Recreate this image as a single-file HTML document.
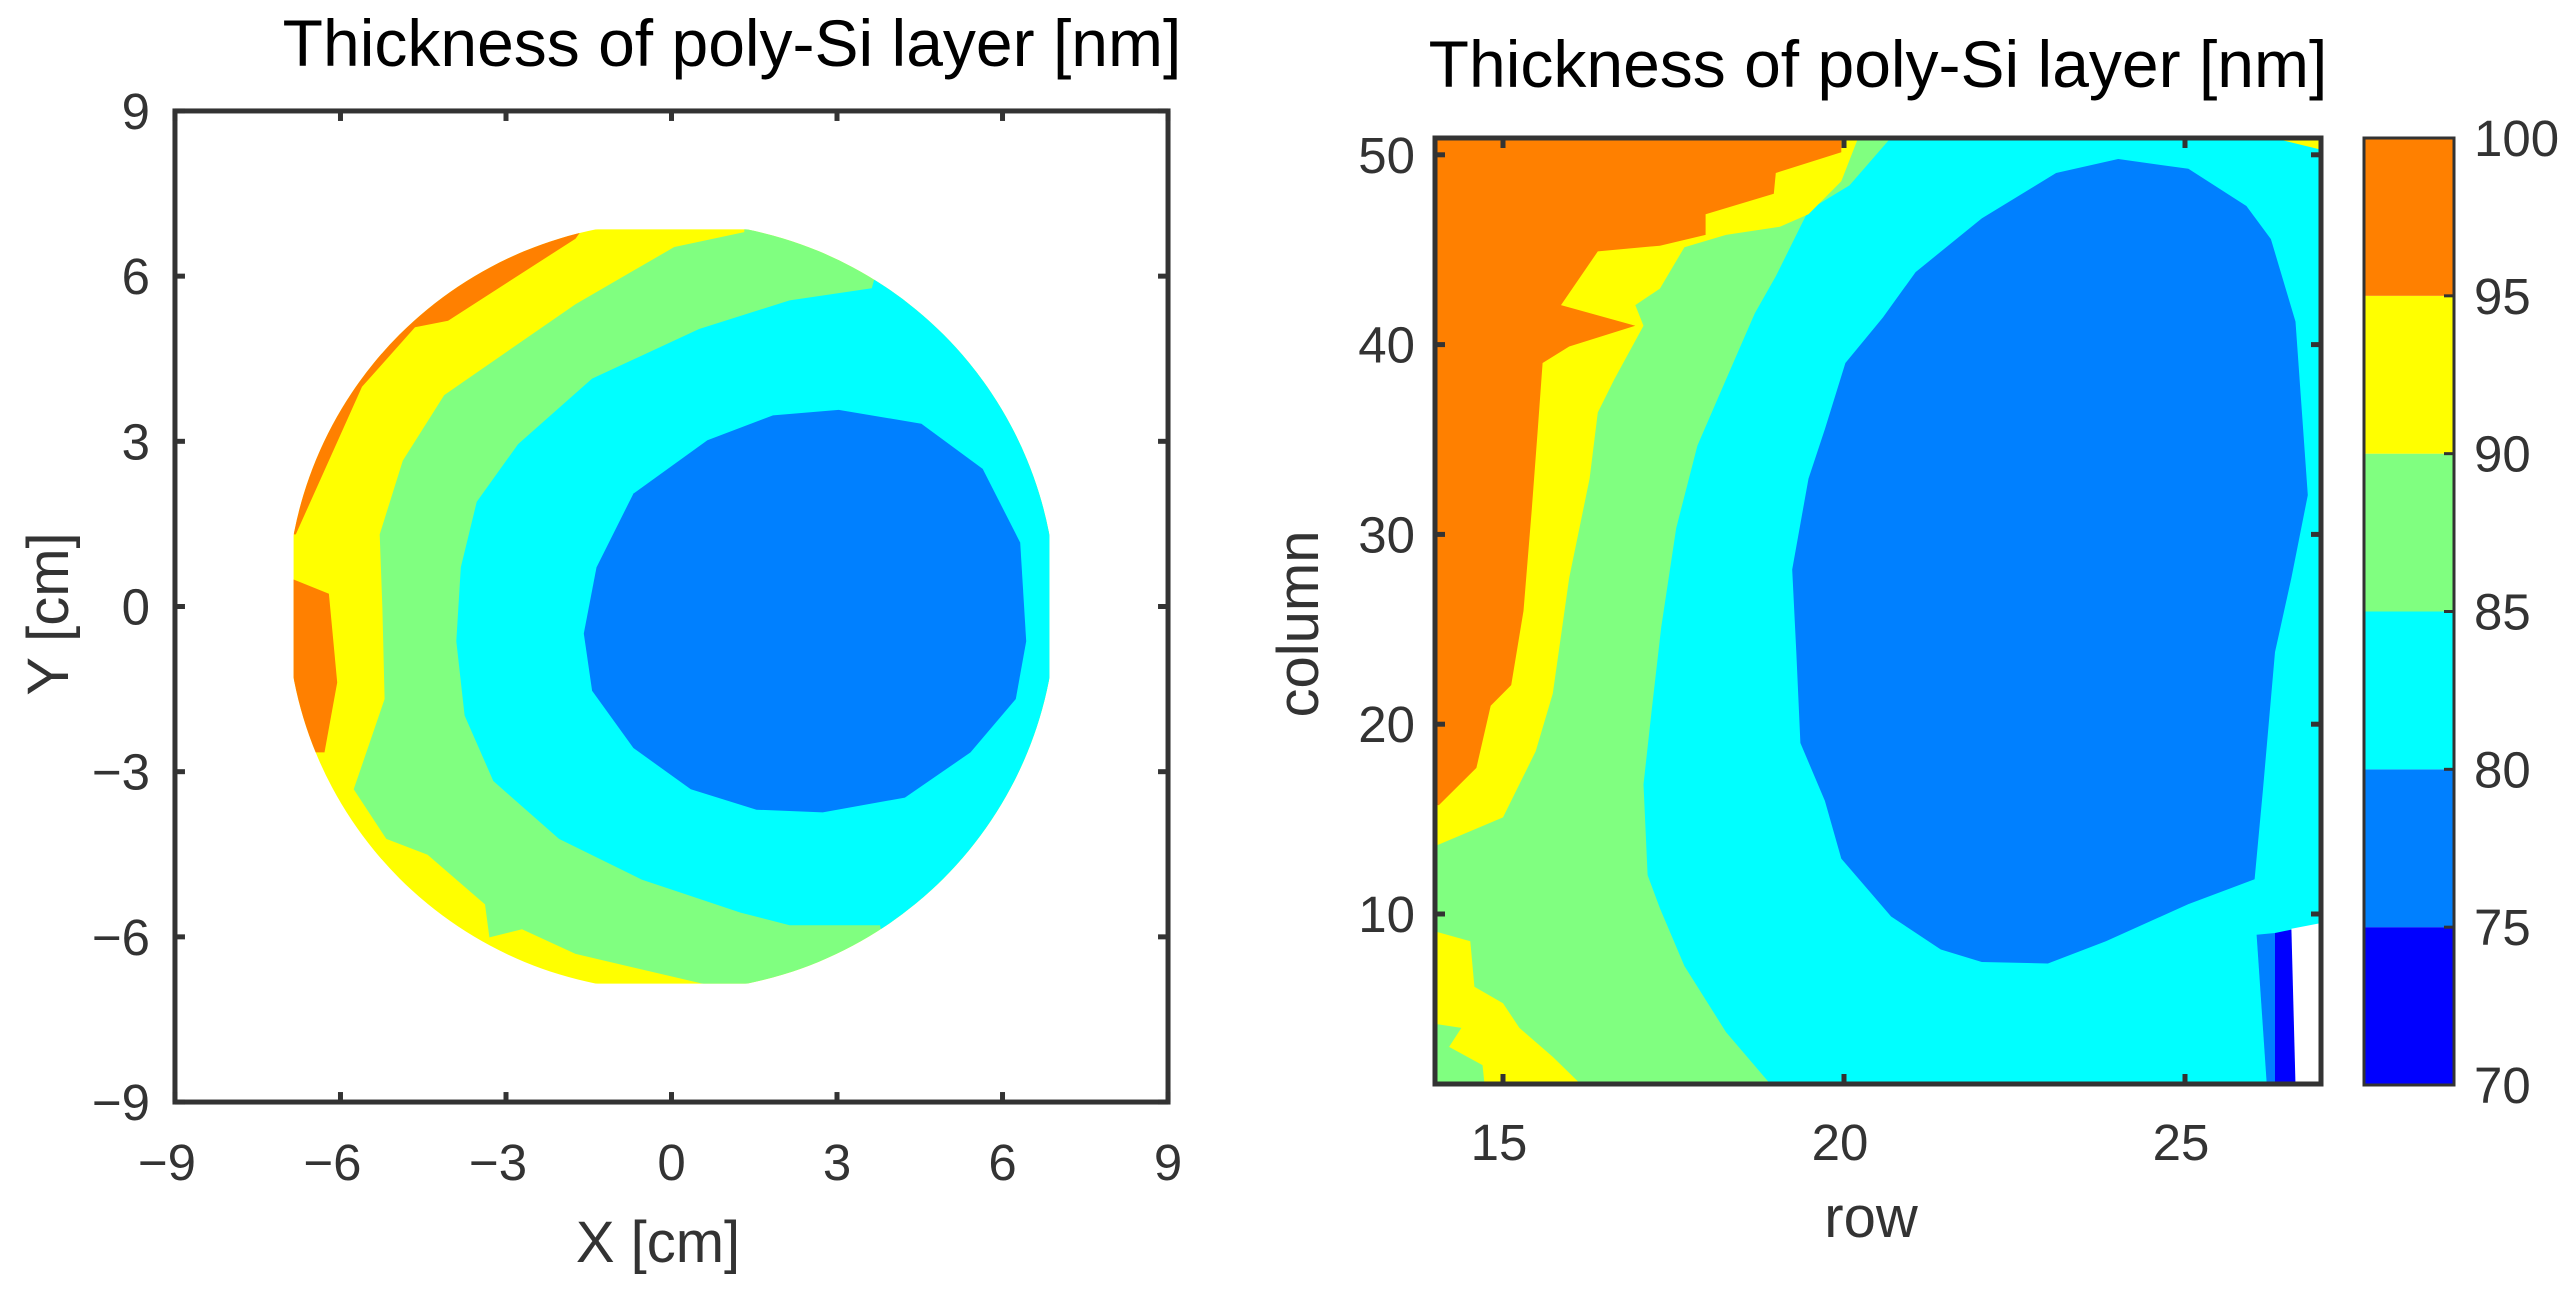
<!DOCTYPE html>
<html><head><meta charset="utf-8"><style>
html,body{margin:0;padding:0;background:#fff;}
svg{display:block;font-family:"Liberation Sans",Arial,sans-serif;}
</style></head><body>
<svg id="svg" width="2575" height="1293" viewBox="0 0 2575 1293" xmlns="http://www.w3.org/2000/svg">
<defs>
<clipPath id="rightClip"><rect x="1435" y="138" width="886" height="946"/></clipPath>
</defs>
<g id="left"></g>
<g id="right"></g>
</svg>
<script>
const NS="http://www.w3.org/2000/svg";
function mk(tag,attrs,parent){const e=document.createElementNS(NS,tag);for(const k in attrs)e.setAttribute(k,attrs[k]);parent.appendChild(e);return e;}
// ---------- data: left chart (cm) ----------
const leftTicks=[-9,-6,-3,0,3,6,9];
const waferRadius=6.98;
const waferHalfSide=6.85;
const leftOrangeA=[[-6.29,-2.65],[-6.06,-1.38],[-6.21,0.23],[-6.85,0.49],[-9,0.49],[-9,-2.65]];
const leftOrangeB=[[-6.81,1.31],[-5.61,3.99],[-4.65,5.07],[-4.05,5.19],[-1.74,6.68],[-1.44,7.1],[-9,7.1],[-9,1.31]];
const leftGreen=[[1.32,6.80],[0.05,6.53],[-1.74,5.49],[-4.12,3.84],[-4.87,2.65],[-5.29,1.31],[-5.24,-0.04],[-5.20,-1.68],[-5.76,-3.32],[-5.17,-4.22],[-4.42,-4.51],[-3.38,-5.41],[-3.30,-6.01],[-2.71,-5.86],[-1.74,-6.31],[0.65,-6.87],[0.7,-9],[9,-9],[9,9],[1.3,9]];
const leftCyan=[[4.23,9],[4.23,8.02],[3.63,5.78],[2.14,5.56],[0.5,5.04],[-1.44,4.14],[-2.78,2.95],[-3.53,1.90],[-3.82,0.71],[-3.90,-0.63],[-3.75,-1.98],[-3.23,-3.17],[-2.04,-4.22],[-0.54,-4.96],[1.25,-5.56],[2.14,-5.79],[3.78,-5.79],[4.5,-9],[9,-9],[9,9]];
const leftBlue=[[3.03,3.57],[1.84,3.47],[0.65,3.02],[-0.69,2.05],[-1.36,0.71],[-1.59,-0.49],[-1.44,-1.53],[-0.69,-2.57],[0.35,-3.32],[1.54,-3.69],[2.74,-3.74],[4.23,-3.47],[5.42,-2.65],[6.24,-1.68],[6.43,-0.63],[6.32,1.16],[5.64,2.50],[4.53,3.32]];
// ---------- data: right chart (row, column) ----------
const rowTicks=[15,20,25];
const colTicks=[10,20,30,40,50];
const cbLevels=[70,75,80,85,90,95,100];
const cbColors=["#0000ff","#0080ff","#00ffff","#80ff80","#ffff00","#ff8000"];
const rGreen=[[20.69,50.91],[20.08,48.39],[19.48,47.08],[19.0,43.60],[18.69,41.64],[18.27,38.16],[17.85,34.68],[17.54,30.33],[17.32,25.10],[17.18,20.75],[17.06,16.83],[17.12,12.05],[17.30,10.30],[17.66,7.26],[18.27,3.78],[18.93,1.0],[14,1.0],[14,50.91]];
const rYellow=[[20.21,50.91],[19.96,48.61],[19.48,46.87],[19.06,46.21],[18.27,45.78],[17.66,45.13],[17.30,42.95],[16.94,42.08],[17.06,40.99],[16.63,38.16],[16.39,36.42],[16.27,32.94],[15.97,27.71],[15.73,21.62],[15.48,18.57],[15.0,15.09],[14,13.57],[14,50.91]];
const rOrange=[[19.96,50.91],[19.96,50.13],[19.0,49.04],[18.97,47.95],[17.97,46.87],[17.97,45.78],[17.30,45.21],[16.39,44.91],[15.85,42.08],[16.94,40.99],[15.97,39.90],[15.58,39.03],[15.51,35.55],[15.42,31.20],[15.30,25.97],[15.12,22.06],[14.82,20.97],[14.61,17.70],[14.06,15.74],[14,15.74],[14,50.91]];
const rYellowBottom=[[14,9.09],[14.52,8.56],[14.58,6.17],[15.0,5.30],[15.24,4.0],[15.73,2.47],[16.15,1.0],[14,1.0]];
const rGreenPatch=[[14,4.21],[14.39,4.0],[14.21,3.0],[14.70,2.04],[14.73,1.0],[14,1.0]];
const rBlue=[[24.02,49.78],[23.11,49.04],[22.02,46.65],[21.05,43.82],[20.57,41.43],[20.02,39.03],[19.72,35.55],[19.48,32.94],[19.24,28.15],[19.30,23.80],[19.36,19.01],[19.72,15.96],[19.96,12.92],[20.69,9.87],[21.42,8.13],[22.02,7.47],[22.99,7.39],[23.84,8.56],[25.05,10.52],[26.02,11.83],[26.14,16.40],[26.32,23.80],[26.56,27.71],[26.80,32.07],[26.62,41.21],[26.26,45.56],[25.90,47.30],[25.05,49.26]];
const rBlueStrip=[[26.05,8.91],[26.32,9.0],[26.32,1.0],[26.20,1.0]];
const rDarkBlueStrip=[[26.32,9.0],[26.62,9.22],[26.62,1.0],[26.32,1.0]];
const rWhite=[[26.56,9.22],[26.96,9.5],[26.96,1.0],[26.62,1.0]];
const rTopRightYellow=[[26.26,50.91],[26.96,50.91],[26.96,50.3]];

const TICK_FS=51, TITLE_FS=66, AXIS_FS=58;
// ---------- left chart ----------
const L=document.getElementById('left');
const lx=v=>671.5+(v)*55.17, ly=v=>606.5-(v)*55.06;
const pts=(arr,fx,fy)=>arr.map(p=>fx(p[0]).toFixed(1)+','+fy(p[1]).toFixed(1)).join(' ');
let t=mk('text',{x:732,y:66,'font-size':TITLE_FS,'text-anchor':'middle',fill:'#000'},L);t.textContent='Thickness of poly-Si layer [nm]';

const defs=document.querySelector('defs');
const cc=mk('clipPath',{id:'sqClip'},defs);
mk('rect',{x:lx(-waferHalfSide),y:ly(waferHalfSide),width:lx(waferHalfSide)-lx(-waferHalfSide),height:ly(-waferHalfSide)-ly(waferHalfSide)},cc);
const cc2=mk('clipPath',{id:'circClip'},defs);
mk('circle',{cx:lx(0),cy:ly(0),r:waferRadius*55.1},cc2);
const wg=mk('g',{'clip-path':'url(#sqClip)'},L);
const wafer=mk('g',{'clip-path':'url(#circClip)'},wg);

mk('rect',{x:lx(-9),y:ly(9),width:lx(9)-lx(-9),height:ly(-9)-ly(9),fill:'#ffff00'},wafer);
[[leftOrangeA,'#ff8000','contour-95-100-a'],[leftOrangeB,'#ff8000','contour-95-100-b'],[leftGreen,'#80ff80','contour-85-90'],[leftCyan,'#00ffff','contour-80-85'],[leftBlue,'#0080ff','contour-75-80']].forEach(([a,c,n])=>{
 const p=mk('polygon',{points:pts(a,lx,ly),fill:c},wafer);
 
});
const lbox=mk('rect',{x:lx(-9),y:ly(9),width:lx(9)-lx(-9),height:ly(-9)-ly(9),fill:'none',stroke:'#333',"stroke-width":5},L);

leftTicks.forEach(v=>{
 mk('line',{x1:lx(v),x2:lx(v),y1:ly(-9),y2:ly(-9)-10,stroke:'#333','stroke-width':5},L);
 mk('line',{x1:lx(v),x2:lx(v),y1:ly(9),y2:ly(9)+10,stroke:'#333','stroke-width':5},L);
 mk('line',{x1:lx(-9),x2:lx(-9)+10,y1:ly(v),y2:ly(v),stroke:'#333','stroke-width':5},L);
 mk('line',{x1:lx(9),x2:lx(9)-10,y1:ly(v),y2:ly(v),stroke:'#333','stroke-width':5},L);
 const lab=(v<0?'\u2212':'')+Math.abs(v);
 let a=mk('text',{x:lx(v)-(v<0?8:0),y:1180,'font-size':TICK_FS,'text-anchor':'middle',fill:'#333'},L);a.textContent=lab;
 
 let b=mk('text',{x:150,y:ly(v)+18,'font-size':TICK_FS,'text-anchor':'end',fill:'#333'},L);b.textContent=lab;
 
});
t=mk('text',{x:658,y:1262,'font-size':AXIS_FS,'text-anchor':'middle',fill:'#333'},L);t.textContent='X [cm]';

t=mk('text',{x:0,y:0,'font-size':AXIS_FS,'text-anchor':'middle',fill:'#333',transform:'translate(68,614) rotate(-90)'},L);t.textContent='Y [cm]';


// ---------- right chart ----------
const R=document.getElementById('right');
const rx=v=>1503+(v-15)*68.2, ry=v=>914-(v-10)*18.98;
t=mk('text',{x:1878,y:87,'font-size':TITLE_FS,'text-anchor':'middle',fill:'#000'},R);t.textContent='Thickness of poly-Si layer [nm]';

const rg=mk('g',{'clip-path':'url(#rightClip)'},R);

mk('rect',{x:1435,y:138,width:886,height:946,fill:'#00ffff'},rg);
[[rGreen,'#80ff80','contour-85-90'],[rYellow,'#ffff00','contour-90-95'],[rOrange,'#ff8000','contour-95-100'],[rYellowBottom,'#ffff00','contour-90-95-bottom'],[rGreenPatch,'#80ff80','contour-85-90-patch'],[rBlue,'#0080ff','contour-75-80'],[rBlueStrip,'#0080ff','contour-75-80-strip'],[rDarkBlueStrip,'#0000ff','contour-70-75-strip'],[rWhite,'#ffffff','no-data-region'],[rTopRightYellow,'#ffff00','contour-90-95-corner']].forEach(([a,c,n])=>{
 const p=mk('polygon',{points:pts(a,rx,ry),fill:c},rg);
 
});
const rbox=mk('rect',{x:1435,y:138,width:886,height:946,fill:'none',stroke:'#333','stroke-width':5},R);

rowTicks.forEach(v=>{
 mk('line',{x1:rx(v),x2:rx(v),y1:1084,y2:1074,stroke:'#333','stroke-width':5},R);
 mk('line',{x1:rx(v),x2:rx(v),y1:138,y2:148,stroke:'#333','stroke-width':5},R);
 let a=mk('text',{x:rx(v)-4,y:1160,'font-size':TICK_FS,'text-anchor':'middle',fill:'#333'},R);a.textContent=v;
 
});
colTicks.forEach(v=>{
 mk('line',{x1:1435,x2:1445,y1:ry(v),y2:ry(v),stroke:'#333','stroke-width':5},R);
 mk('line',{x1:2321,x2:2311,y1:ry(v),y2:ry(v),stroke:'#333','stroke-width':5},R);
 let a=mk('text',{x:1415,y:ry(v)+18,'font-size':TICK_FS,'text-anchor':'end',fill:'#333'},R);a.textContent=v;
 
});
t=mk('text',{x:1871,y:1237,'font-size':AXIS_FS,'text-anchor':'middle',fill:'#333'},R);t.textContent='row';

t=mk('text',{x:0,y:0,'font-size':AXIS_FS,'text-anchor':'middle',fill:'#333',transform:'translate(1318,624) rotate(-90)'},R);t.textContent='column';

// colorbar
const cy=v=>1085-(v-70)*(947/30);
const cb=mk('g',{},R);

cbColors.forEach((c,i)=>{
 const r=mk('rect',{x:2364,y:cy(cbLevels[i+1]),width:90,height:cy(cbLevels[i])-cy(cbLevels[i+1]),fill:c},cb);
 
});
mk('rect',{x:2364,y:cy(100),width:90,height:cy(70)-cy(100),fill:'none',stroke:'#333','stroke-width':3},cb);
cbLevels.forEach(v=>{
 mk('line',{x1:2454,x2:2444,y1:cy(v),y2:cy(v),stroke:'#333','stroke-width':3},cb);
 let a=mk('text',{x:2474,y:cy(v)+18,'font-size':TICK_FS,fill:'#333'},cb);a.textContent=v;
 
});
</script>
</body></html>
